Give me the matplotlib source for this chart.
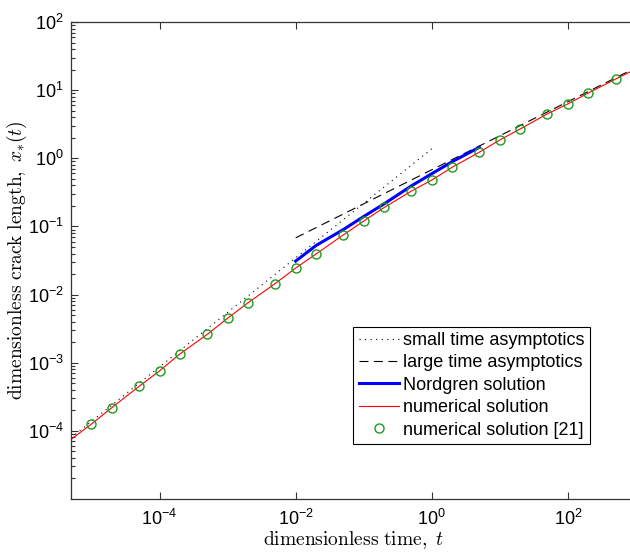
import numpy as np
import matplotlib
matplotlib.use("Agg")
import matplotlib.pyplot as plt
from matplotlib.ticker import LogLocator, NullLocator, NullFormatter

plt.rcParams['font.family'] = ['Liberation Sans', 'DejaVu Sans']
plt.rcParams['mathtext.fontset'] = 'cm'

# small time asymptotics (dotted)
t_small = [5e-6, 1.0]
x_small = [7.9e-5, 1.38]

# large time asymptotics (dashed)
t_large = [1e-2, 1e3]
x_large = [0.068, 21.4]

# Nordgren solution
t_nord = [0.01, 0.02, 0.05, 0.1, 0.2, 0.5, 1, 2, 5]
x_nord = [0.031, 0.0527, 0.0898, 0.140, 0.215, 0.393, 0.594, 0.893, 1.45]

# numerical solution (red line)
t_num = [5e-6, 1e-5, 2e-5, 5e-5, 1e-4, 2e-4, 5e-4, 1e-3, 2e-3, 5e-3, 1e-2, 2e-2,
         5e-2, 0.1, 0.2, 0.5, 1, 2, 5, 10, 20, 50, 100, 200, 500, 1000]
x_num = [7.5e-5, 1.26e-4, 2.2e-4, 4.5e-4, 7.6e-4, 1.35e-3, 2.6e-3, 4.5e-3, 7.6e-3,
         1.45e-2, 2.45e-2, 3.95e-2, 7.5e-2, 0.12, 0.19, 0.33, 0.48, 0.74, 1.23,
         1.86, 2.7, 4.5, 6.3, 9.1, 14.5, 20.5]

# numerical solution [21] (circles)
t_ref = [1e-5, 2e-5, 5e-5, 1e-4, 2e-4, 5e-4, 1e-3, 2e-3, 5e-3, 1e-2, 2e-2, 5e-2,
         0.1, 0.2, 0.5, 1, 2, 5, 10, 20, 50, 100, 200, 500]
x_ref = [1.26e-4, 2.2e-4, 4.5e-4, 7.6e-4, 1.35e-3, 2.6e-3, 4.5e-3, 7.6e-3, 1.45e-2,
         2.45e-2, 3.95e-2, 7.5e-2, 0.12, 0.19, 0.33, 0.48, 0.74, 1.23, 1.86, 2.7,
         4.5, 6.3, 9.1, 14.5]

fig = plt.figure(figsize=(6.3, 5.52), dpi=100)
ax = fig.add_axes([71/630, 1 - 499/552, 565/630, 477/552])

ax.loglog(t_small, x_small, color='k', lw=0.8, linestyle=(0, (1, 4)),
          label='small time asymptotics')
ax.loglog(t_large, x_large, color='k', lw=0.8, linestyle=(0, (8, 5)),
          label='large time asymptotics')
ax.loglog(t_nord, x_nord, color='#0000ff', lw=2.2, label='Nordgren solution')
ax.loglog(t_num, x_num, color='#ff0000', lw=0.8, label='numerical solution')
ax.loglog(t_ref, x_ref, linestyle='none', marker='o', ms=6.5, mfc='none',
          mec='#1f9a1f', mew=1.0, label='numerical solution [21]')

ax.set_xlim(5e-6, 1e3)
ax.set_ylim(1e-5, 1e2)

ax.set_xticks([1e-4, 1e-2, 1e0, 1e2])
ax.xaxis.set_minor_locator(NullLocator())
ax.set_yticks([1e-4, 1e-3, 1e-2, 1e-1, 1e0, 1e1, 1e2])
ax.yaxis.set_minor_locator(LogLocator(base=10, subs=np.arange(2, 10), numticks=20))
ax.yaxis.set_minor_formatter(NullFormatter())

ax.tick_params(which='both', direction='in', top=True, right=False,
               labelsize=13, width=0.8, color='#333333')
ax.tick_params(which='major', length=5)
ax.tick_params(which='minor', length=3)
ax.tick_params(axis='x', pad=7)
ax.tick_params(axis='y', pad=5)
for s in ax.spines.values():
    s.set_linewidth(0.9)
    s.set_color('#333333')

ax.set_xlabel(r'$\mathrm{dimensionless\ time,}\ t$', fontsize=14, labelpad=0)
ax.set_ylabel(r'$\mathrm{dimensionless\ crack\ length,}\ x_{*}(t)$', fontsize=14,
              labelpad=-1)

leg = ax.legend(loc='lower right', bbox_to_anchor=(0.9186, 0.1153), borderaxespad=0,
                fontsize=13, fancybox=False, framealpha=1, edgecolor='k',
                handlelength=2.2, handletextpad=0.25, borderpad=0.3,
                labelspacing=0.3)
leg.get_frame().set_linewidth(0.8)

fig.savefig('out.png', dpi=100)
